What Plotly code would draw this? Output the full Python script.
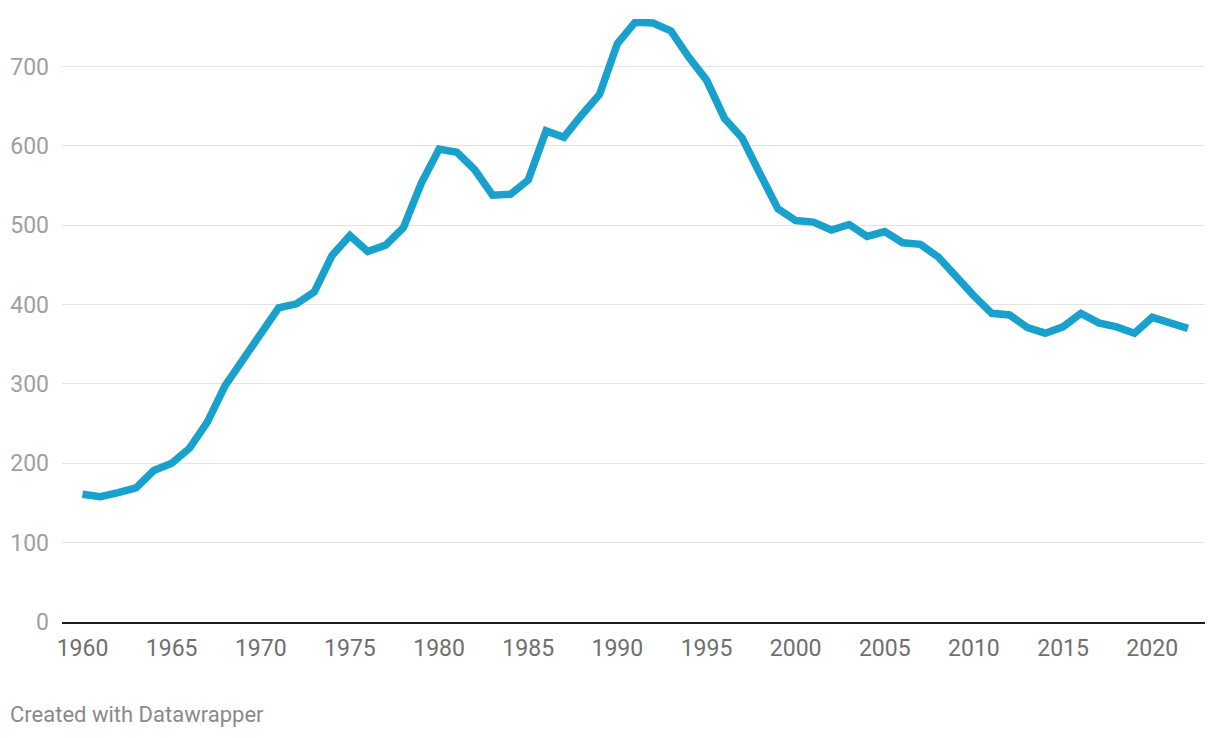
import plotly.graph_objects as go

years = list(range(1960, 2023))
values = [161, 158, 163, 169, 191, 200, 219, 252, 298, 330,
          364, 396, 401, 416, 462, 487, 467, 475, 497, 553,
          596, 592, 570, 538, 539, 557, 619, 611, 639, 665,
          729, 756, 755, 745, 712, 683, 635, 610, 565, 521,
          506, 504, 494, 501, 486, 492, 478, 476, 460, 434,
          411, 389, 387, 371, 364, 372, 389, 377, 372, 364,
          384, 377, 370]
x_ticks = list(range(1960, 2021, 5))
y_ticks = [0, 100, 200, 300, 400, 500, 600, 700]

fig = go.Figure()
fig.add_trace(go.Scatter(
    x=years, y=values, mode="lines",
    line=dict(color="#18a1cd", width=7.5),
    hoverinfo="skip", showlegend=False,
))

fig.update_layout(
    width=1220, height=738,
    margin=dict(l=62, r=15, t=19, b=116),
    paper_bgcolor="white", plot_bgcolor="white",
    font=dict(family="Roboto", size=23, color="#999999"),
    xaxis=dict(
        range=[1958.85, 2022.96], automargin=False,
        tickvals=x_ticks, ticktext=[str(t) for t in x_ticks],
        showgrid=False, zeroline=False,
        showline=True, linecolor="#1d1d1d", linewidth=2,
        ticks="", ticklabelstandoff=4,
        tickfont=dict(family="Roboto", size=23, color="#6f6f6f"),
    ),
    yaxis=dict(
        range=[0, 760], automargin=False,
        tickvals=y_ticks, ticktext=[str(t) for t in y_ticks],
        showgrid=True, gridcolor="#e4e4e4", gridwidth=1.3,
        zeroline=False, ticks="", ticklabelstandoff=12,
        tickfont=dict(family="Roboto", size=23, color="#a0a0a0"),
    ),
    annotations=[dict(
        text="Created with Datawrapper",
        xref="paper", yref="paper",
        x=(8 - 62) / 1143, y=(621.7 - 714) / 603,
        xanchor="left", yanchor="middle", showarrow=False,
        font=dict(family="Roboto", size=22, color="#8a8a8a"),
    )],
)

fig.write_html("out.html")
